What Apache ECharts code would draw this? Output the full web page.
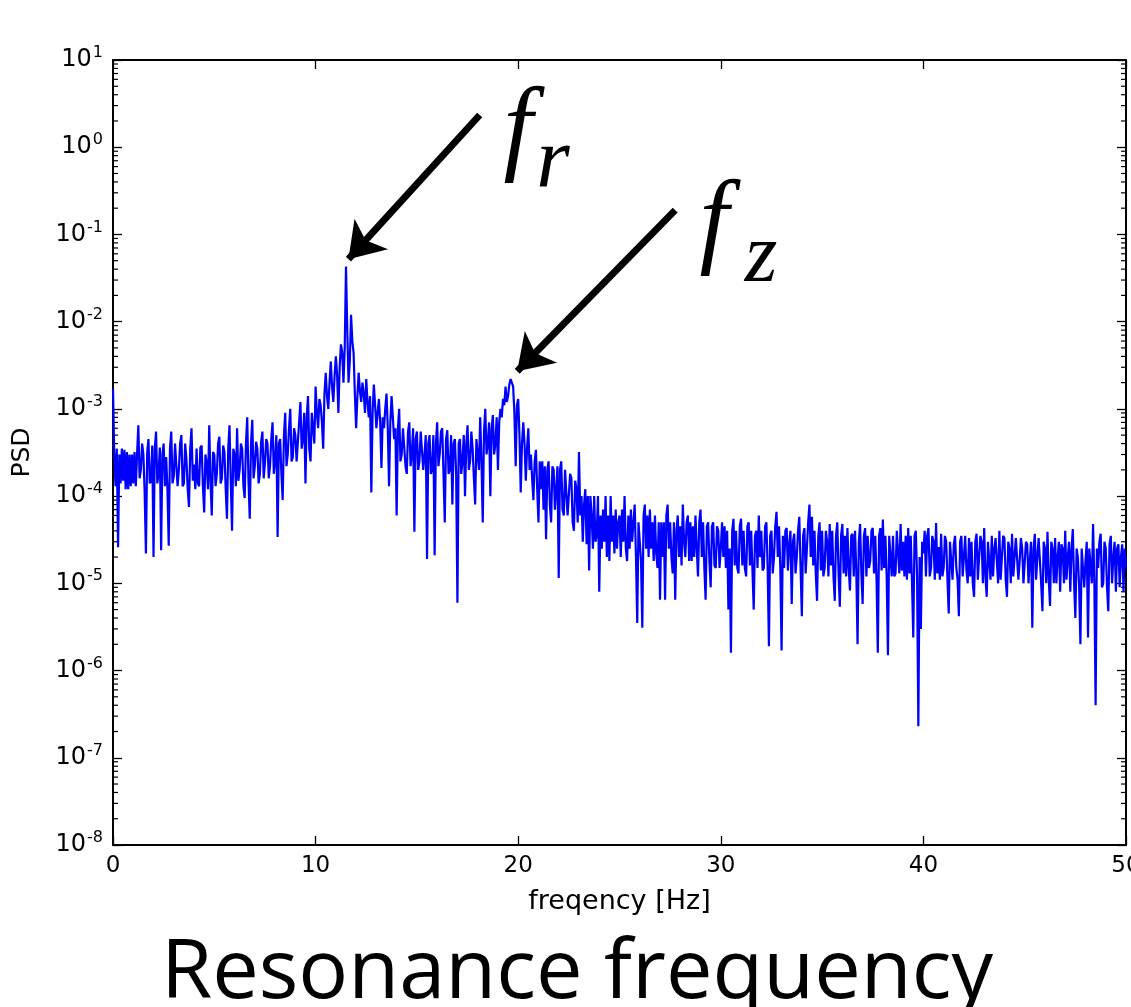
<!DOCTYPE html>
<html>
<head>
<meta charset="utf-8">
<title>Resonance frequency</title>
<script src="https://cdn.jsdelivr.net/npm/echarts@6/dist/echarts.min.js"></script>
<style>
  html, body { margin: 0; padding: 0; background: #fff; }
  #chart { width: 1131px; height: 1007px; }
</style>
</head>
<body>
<div id="chart"></div>
<script>
// PSD, one sample every 0.0625 Hz (16 per Hz)
var freqStep = 0.0625;

var psd0to10 = [
  1.7e-3, 3e-4, 1.3e-4, 3.5e-4, 2.6e-5, 3e-4, 1.4e-4, 3.5e-4,
  1.5e-4, 3.4e-4, 1.2e-4, 3.2e-4, 1.2e-4, 3e-4, 1.3e-4, 3e-4,
  1.4e-4, 3.2e-4, 1.3e-4, 3e-4, 6.5e-4, 1.6e-4, 2e-4, 4e-4,
  3e-4, 1.1e-4, 2.2e-5, 3.2e-4, 4.5e-4, 1.4e-4, 1.5e-4, 3.8e-4,
  2e-5, 3.5e-4, 5.5e-4, 1.4e-4, 1.8e-4, 3.6e-4, 2.4e-5, 3e-4,
  4e-4, 1.3e-4, 2.8e-4, 1.2e-4, 2.7e-5, 3.5e-4, 5.5e-4, 1.4e-4,
  1.7e-4, 4e-4, 4e-4, 1.3e-4, 2e-4, 4e-4, 5e-4, 1.3e-4,
  1.4e-4, 4e-4, 2.6e-4, 1.2e-4, 7.5e-5, 3.5e-4, 6e-4, 1.5e-4,
  2.3e-4, 1.2e-4, 3.5e-4, 1.4e-4, 1.3e-4, 3.6e-4, 3.8e-4, 1.3e-4,
  6.5e-5, 3e-4, 2.4e-4, 1.2e-4, 6.5e-4, 1.5e-4, 6e-5, 3.2e-4,
  3e-4, 1.3e-4, 1.8e-4, 4e-4, 4.8e-4, 1.4e-4, 1.6e-4, 3.8e-4,
  3.2e-4, 1.2e-4, 5.5e-5, 3.5e-4, 6.5e-4, 1.5e-4, 4e-5, 3.5e-4,
  3e-4, 1.3e-4, 6e-4, 1.5e-4, 2e-4, 4e-4, 3.5e-4, 1.3e-4,
  9.5e-5, 4e-4, 8e-4, 1.5e-4, 5.5e-5, 4e-4, 7.5e-4, 1.6e-4,
  2.2e-4, 4.2e-4, 3.5e-4, 1.4e-4, 1.8e-4, 4.2e-4, 5.5e-4, 1.6e-4,
  2.4e-4, 4.5e-4, 4e-4, 1.6e-4, 2.2e-4, 4.5e-4, 7e-4, 1.8e-4,
  2.6e-4, 5e-4, 3.4e-5, 4e-4, 4.5e-4, 1.8e-4, 9e-5, 5e-4,
  9e-4, 2.2e-4, 3e-4, 6e-4, 1e-3, 2.5e-4, 2.8e-4, 6e-4,
  5e-4, 2.5e-4, 2.6e-4, 7e-4, 1.2e-3, 3.5e-4, 4.5e-4, 9e-4,
  1.4e-4, 8e-4, 1.4e-3, 3.5e-4, 2.5e-4, 9e-4, 9e-4, 4e-4
];
var psd10to20 = [
  1.8e-3, 9e-4, 6e-4, 1.3e-3, 1.1e-3, 7e-4, 3.5e-4, 1.5e-3,
  2.6e-3, 1.4e-3, 1e-3, 2e-3, 3.5e-3, 1.8e-3, 1.2e-3, 2.4e-3,
  4e-3, 2.4e-3, 9e-4, 3e-3, 5.5e-3, 4.5e-3, 2e-3, 5e-3,
  4.3e-2, 8e-3, 2e-3, 3.5e-3, 1.2e-2, 6e-3, 4.4e-3, 1.5e-3,
  6e-4, 1.4e-3, 2.6e-3, 1.6e-3, 1.2e-3, 2e-3, 1.5e-3, 9e-4,
  2.2e-3, 1.2e-3, 8e-4, 1.4e-3, 1.1e-4, 9e-4, 1.9e-3, 1.1e-3,
  6e-4, 9e-4, 1.3e-3, 7e-4, 2.1e-4, 8e-4, 6e-4, 1e-3,
  1.5e-3, 6e-4, 1.3e-4, 7e-4, 1.4e-3, 8e-4, 4.5e-4, 6e-4,
  6e-5, 6e-4, 1e-3, 2.5e-4, 3e-4, 6e-4, 6e-4, 2.2e-4,
  1.8e-4, 5.5e-4, 7e-4, 2.2e-4, 3e-4, 6e-4, 3.9e-5, 4.5e-4,
  5.5e-4, 2e-4, 2.5e-4, 5.5e-4, 5.5e-4, 2e-4, 3e-4, 5e-4,
  1.9e-5, 4e-4, 5e-4, 1.8e-4, 2e-4, 5e-4, 2.1e-5, 4e-4,
  7e-4, 2.2e-4, 3e-4, 5.5e-4, 6e-4, 1.8e-4, 5e-5, 4.5e-4,
  5.7e-4, 1.8e-4, 2e-4, 5e-4, 8e-5, 4e-4, 4.5e-4, 1.8e-4,
  6e-6, 4e-4, 4.5e-4, 1.8e-4, 2.5e-4, 5e-4, 1e-4, 4e-4,
  6.5e-4, 2e-4, 2.5e-4, 5.5e-4, 3.5e-4, 1.6e-4, 8e-5, 4.5e-4,
  4.5e-4, 2e-4, 8e-4, 2.5e-4, 5e-5, 5.5e-4, 1e-3, 3e-4,
  4e-4, 7e-4, 1e-4, 6e-4, 8.5e-4, 3e-4, 4e-4, 8e-4,
  2e-4, 7e-4, 1e-3, 8e-4, 1.3e-3, 1.1e-3, 1.8e-3, 1.2e-3,
  1.4e-3, 1.9e-3, 2.2e-3, 2e-3, 1.8e-3, 9e-4, 2.2e-4, 1.1e-3
];
var psd20to30 = [
  1.3e-3, 5e-4, 1.1e-4, 4e-4, 7e-4, 4e-4, 1.5e-4, 3.5e-4,
  6e-4, 2e-4, 3e-4, 1.6e-4, 9e-5, 2.5e-4, 3.4e-4, 1.2e-4,
  5e-5, 2.5e-4, 1.2e-4, 2.5e-4, 7e-5, 2.2e-4, 3.2e-5, 2e-4,
  2.5e-4, 8e-5, 5e-5, 2.2e-4, 2e-4, 7e-5, 1.2e-4, 2.2e-4,
  1.15e-5, 2e-4, 2.5e-4, 7e-5, 6e-5, 2e-4, 2e-4, 6e-5,
  6e-5, 1.8e-4, 1.6e-4, 5e-5, 4e-5, 1.5e-4, 1.2e-4, 5e-5,
  3.2e-4, 6e-5, 1e-4, 3e-5, 8e-5, 1.2e-4, 2.8e-5, 1e-4,
  1.4e-5, 1e-4, 6e-5, 2.5e-5, 1e-4, 3e-5, 3.5e-5, 1e-4,
  8e-6, 6e-5, 2.5e-5, 7e-5, 3e-5, 1e-4, 2e-5, 6e-5,
  1.8e-5, 1e-4, 3e-5, 6e-5, 2.2e-5, 7e-5, 2.5e-5, 5e-5,
  6e-5, 2e-5, 7e-5, 3e-5, 1e-4, 2.5e-5, 1.8e-5, 6e-5,
  2.5e-5, 7e-5, 3e-5, 5e-5, 8e-5, 2e-5, 3.5e-6, 5e-5,
  5e-5, 1.8e-5, 3.1e-6, 6e-5, 8e-5, 2.5e-5, 6e-5, 2e-5,
  7e-5, 2.5e-5, 5e-5, 1.8e-5, 6e-5, 2.2e-5, 1.5e-5, 5e-5,
  6.5e-6, 5e-5, 2e-5, 5e-5, 6.5e-6, 6e-5, 8e-5, 2.5e-5,
  5e-5, 2e-5, 1.3e-5, 5e-5, 6.5e-6, 4e-5, 6e-5, 2e-5,
  4.5e-5, 1.6e-5, 8e-5, 3e-5, 2e-5, 5e-5, 6e-5, 1.8e-5,
  5e-5, 1.8e-5, 4.5e-5, 2e-5, 6e-5, 2.5e-5, 1.2e-5, 5e-5,
  7e-5, 2e-5, 5e-5, 1.5e-5, 6.5e-6, 4.5e-5, 5e-5, 1.8e-5,
  9e-6, 4.5e-5, 5e-5, 1.6e-5, 1.5e-5, 4.5e-5, 4e-5, 1.5e-5
];
var psd30to40 = [
  2.5e-5, 5e-5, 2e-5, 4.5e-5, 1.5e-5, 4e-5, 5e-6, 2.5e-5,
  1.6e-6, 4e-5, 5.5e-5, 1.6e-5, 4e-5, 1.5e-5, 1.3e-5, 4.5e-5,
  5.5e-5, 1.6e-5, 4e-5, 1.5e-5, 1.2e-5, 4.5e-5, 5e-5, 1.6e-5,
  4e-5, 1.4e-5, 5e-6, 3.5e-5, 4e-5, 1.5e-5, 6e-5, 2e-5,
  4e-5, 1.4e-5, 1.5e-5, 4.5e-5, 5e-5, 1.5e-5, 1.9e-6, 3.5e-5,
  4e-5, 1.3e-5, 2e-5, 4.5e-5, 6.6e-5, 2e-5, 4.5e-5, 1.5e-5,
  1.7e-6, 3.5e-5, 1.5e-5, 4e-5, 4.3e-5, 1.4e-5, 2.8e-5, 4e-5,
  5.8e-6, 3e-5, 3.7e-5, 1.3e-5, 2e-5, 4e-5, 5.8e-5, 1.5e-5,
  4.2e-6, 3.5e-5, 4.3e-5, 1.3e-5, 2.5e-5, 5e-5, 8e-5, 2e-5,
  5.8e-5, 1.6e-5, 4e-5, 1.3e-5, 6.3e-6, 3.5e-5, 5e-5, 1.4e-5,
  4e-5, 1.2e-5, 1.5e-5, 4e-5, 3e-5, 1.2e-5, 4.8e-5, 1.6e-5,
  4e-5, 1.2e-5, 6.3e-6, 3.5e-5, 5e-5, 1.3e-5, 5.4e-6, 3.5e-5,
  4.8e-5, 1.3e-5, 3.5e-5, 1.2e-5, 4.3e-5, 1.5e-5, 8.3e-6, 3.5e-5,
  3.7e-5, 1.2e-5, 4e-5, 1.4e-5, 2e-6, 3e-5, 4.8e-5, 1.3e-5,
  5.8e-6, 3.5e-5, 4.3e-5, 1.2e-5, 3.5e-5, 1.5e-5, 1.8e-5, 4e-5,
  4.3e-5, 1.3e-5, 3.5e-5, 1.1e-5, 1.6e-6, 3.5e-5, 4.3e-5, 1.4e-5,
  5.4e-5, 1.5e-5, 3.5e-5, 1.2e-5, 1.5e-6, 3.5e-5, 3.5e-5, 1.2e-5,
  3.5e-5, 1.2e-5, 1.3e-5, 4e-5, 4e-5, 1.3e-5, 4.8e-5, 1.4e-5,
  3e-5, 1.2e-5, 3.5e-5, 1.1e-5, 4.3e-5, 1.3e-5, 3.5e-5, 1e-5,
  2.4e-6, 3.5e-5, 4e-5, 1.2e-5, 2.3e-7, 2e-5, 3e-6, 3e-5
];
var psd40to50 = [
  2.2e-5, 4e-5, 1.2e-5, 3.5e-5, 4.3e-5, 1.2e-5, 1.5e-5, 3.5e-5,
  3e-5, 1.1e-5, 4.9e-5, 1.3e-5, 2.6e-5, 1.1e-5, 3.7e-5, 1.2e-5,
  1.5e-5, 3.5e-5, 3e-5, 1.1e-5, 4.5e-6, 3e-5, 3e-5, 1.1e-5,
  2.8e-5, 3.5e-5, 1.5e-5, 1.1e-5, 4.2e-6, 3e-5, 3.5e-5, 1.2e-5,
  2e-5, 3.5e-5, 1.4e-5, 1e-5, 3.3e-5, 1.2e-5, 3e-5, 1e-5,
  7e-6, 3e-5, 3.7e-5, 1.1e-5, 2e-5, 3.5e-5, 3e-5, 1e-5,
  4.3e-5, 1.2e-5, 7e-6, 3e-5, 3e-5, 1.1e-5, 3.5e-5, 1.2e-5,
  2.5e-5, 3.3e-5, 1.8e-5, 1e-5, 4e-5, 1.1e-5, 2e-5, 3.5e-5,
  3.3e-5, 1.1e-5, 7e-6, 3e-5, 2.5e-5, 1e-5, 3.7e-5, 1.2e-5,
  2e-5, 3.3e-5, 3.3e-5, 1.1e-5, 1.8e-5, 3.3e-5, 2.5e-5, 1e-5,
  1e-5, 3e-5, 2.8e-5, 1e-5, 1.8e-5, 3e-5, 3.1e-6, 2.5e-5,
  3.7e-5, 1.1e-5, 2e-5, 3.3e-5, 3.3e-5, 1e-5, 4.8e-6, 3e-5,
  2.5e-5, 1e-5, 3.9e-5, 1.1e-5, 5.5e-6, 3e-5, 2.5e-5, 1e-5,
  3.3e-5, 1e-5, 2e-5, 3e-5, 8e-6, 2.8e-5, 2.5e-5, 1e-5,
  4e-5, 1.1e-5, 2e-5, 3e-5, 8e-6, 2.5e-5, 4.2e-5, 1e-5,
  4e-6, 2.5e-5, 2e-5, 9e-6, 2e-6, 2.5e-5, 2.5e-5, 9e-6,
  1.8e-5, 3e-5, 2.4e-6, 2.5e-5, 2.5e-5, 1e-5, 4.8e-5, 1e-5,
  4e-7, 2.5e-5, 1.5e-5, 3e-5, 3.7e-5, 9e-6, 1e-5, 3e-5,
  2.5e-5, 9e-6, 4.8e-6, 2.8e-5, 3.5e-5, 1e-5, 2e-5, 3e-5,
  8e-6, 2.5e-5, 2.8e-5, 9e-6, 2e-5, 2.8e-5, 8e-6, 2.5e-5,
  1.5e-5
];

// arrows pointing at the two peaks: [freq, psd] tail -> head
var arrowFr = [[18.1, 2.34], [11.62, 0.052]];
var arrowFz = [[27.75, 0.19], [19.95, 2.7e-3]];

var psd = psd0to10.concat(psd10to20, psd20to30, psd30to40, psd40to50);
var lineData = [];
for (var i = 0; i < psd.length; i++) {
  lineData.push([i * freqStep, psd[i]]);
}

// minor ticks of the log axis at 2..9 x 10^n
var minorTicks = [];
for (var e = -8; e <= 0; e++) {
  for (var k = 2; k <= 9; k++) {
    minorTicks.push([0, k * Math.pow(10, e)]);
  }
}

var font = 'DejaVu Sans';
var axisLineStyle = { color: '#000', width: 2 };
var tickStyle = { color: '#000', width: 1.3 };

var chart = echarts.init(document.getElementById('chart'));

var option = {
  animation: false,
  backgroundColor: '#fff',
  grid: { left: 113, right: 5, top: 60, bottom: 162, containLabel: false, outerBoundsMode: 'none' },
  xAxis: [{
    type: 'value', min: 0, max: 50, interval: 10, position: 'bottom',
    name: 'freqency [Hz]', nameLocation: 'middle', nameGap: 43,
    nameTextStyle: { fontFamily: font, fontSize: 27, color: '#000' },
    axisLine: { show: true, onZero: false, lineStyle: axisLineStyle },
    axisTick: { show: true, inside: true, length: 9, lineStyle: tickStyle },
    axisLabel: { fontFamily: font, fontSize: 23, color: '#000', margin: 10 },
    splitLine: { show: false }
  }, {
    type: 'value', min: 0, max: 50, interval: 10, position: 'top',
    axisLine: { show: true, onZero: false, lineStyle: axisLineStyle },
    axisTick: { show: true, inside: true, length: 9, lineStyle: tickStyle },
    axisLabel: { show: false },
    splitLine: { show: false }
  }],
  yAxis: [{
    type: 'log', logBase: 10, min: 1e-8, max: 10, interval: 1, position: 'left',
    name: 'PSD', nameLocation: 'middle', nameGap: 78, nameRotate: 90,
    nameTextStyle: { fontFamily: font, fontSize: 25, color: '#000' },
    axisLine: { show: true, onZero: false, lineStyle: axisLineStyle },
    axisTick: { show: true, inside: true, length: 9, lineStyle: tickStyle },
    axisLabel: {
      margin: 10,
      formatter: function (v) {
        var p = Math.round(Math.log10(v));
        return '{b|10}{s|' + p + '}';
      },
      rich: {
        b: { fontFamily: font, fontSize: 24, color: '#000' },
        s: { fontFamily: font, fontSize: 16, color: '#000', padding: [0, 0, 14, 1] }
      }
    },
    splitLine: { show: false }
  }, {
    type: 'log', logBase: 10, min: 1e-8, max: 10, interval: 1, position: 'right',
    axisLine: { show: true, onZero: false, lineStyle: axisLineStyle },
    axisTick: { show: true, inside: true, length: 9, lineStyle: tickStyle },
    axisLabel: { show: false },
    splitLine: { show: false }
  }],
  series: [{
    type: 'line',
    data: lineData,
    showSymbol: false,
    symbol: 'none',
    sampling: null,
    lineStyle: { color: '#0000ff', width: 2.2 },
    silent: true,
    markLine: {
      silent: true,
      symbol: ['none', 'arrow'],
      symbolSize: 34,
      label: { show: false },
      lineStyle: { color: '#000', width: 7, type: 'solid' },
      emphasis: { disabled: true },
      data: [
        [{ coord: arrowFr[0] }, { coord: arrowFr[1] }],
        [{ coord: arrowFz[0] }, { coord: arrowFz[1] }]
      ]
    }
  }, {
    type: 'custom',
    silent: true,
    data: minorTicks,
    encode: { x: 0, y: 1 },
    renderItem: function (params, api) {
      var v = api.value(1);
      var l = api.coord([0, v]);
      var r = api.coord([50, v]);
      return {
        type: 'group',
        children: [
          { type: 'line', shape: { x1: l[0], y1: l[1], x2: l[0] + 5, y2: l[1] }, style: { stroke: '#000', lineWidth: 1.2 } },
          { type: 'line', shape: { x1: r[0] - 5, y1: r[1], x2: r[0], y2: r[1] }, style: { stroke: '#000', lineWidth: 1.2 } }
        ]
      };
    }
  }],
  graphic: [
    { type: 'text', x: 518, y: 132, style: { text: 'f', font: 'italic 105px "Liberation Serif"', fill: '#000', align: 'center', verticalAlign: 'middle' } },
    { type: 'text', x: 553, y: 164, style: { text: 'r', font: 'italic 86px "Liberation Serif"', fill: '#000', align: 'center', verticalAlign: 'middle' } },
    { type: 'text', x: 714, y: 225, style: { text: 'f', font: 'italic 105px "Liberation Serif"', fill: '#000', align: 'center', verticalAlign: 'middle' } },
    { type: 'text', x: 761, y: 259, style: { text: 'z', font: 'italic 84px "Liberation Serif"', fill: '#000', align: 'center', verticalAlign: 'middle' } },
    { type: 'text', x: 577, y: 974, style: { text: 'Resonance frequency', font: '83px "Open Sans"', fill: '#000', align: 'center', verticalAlign: 'middle' } }
  ]
};

chart.setOption(option);
</script>
</body>
</html>
